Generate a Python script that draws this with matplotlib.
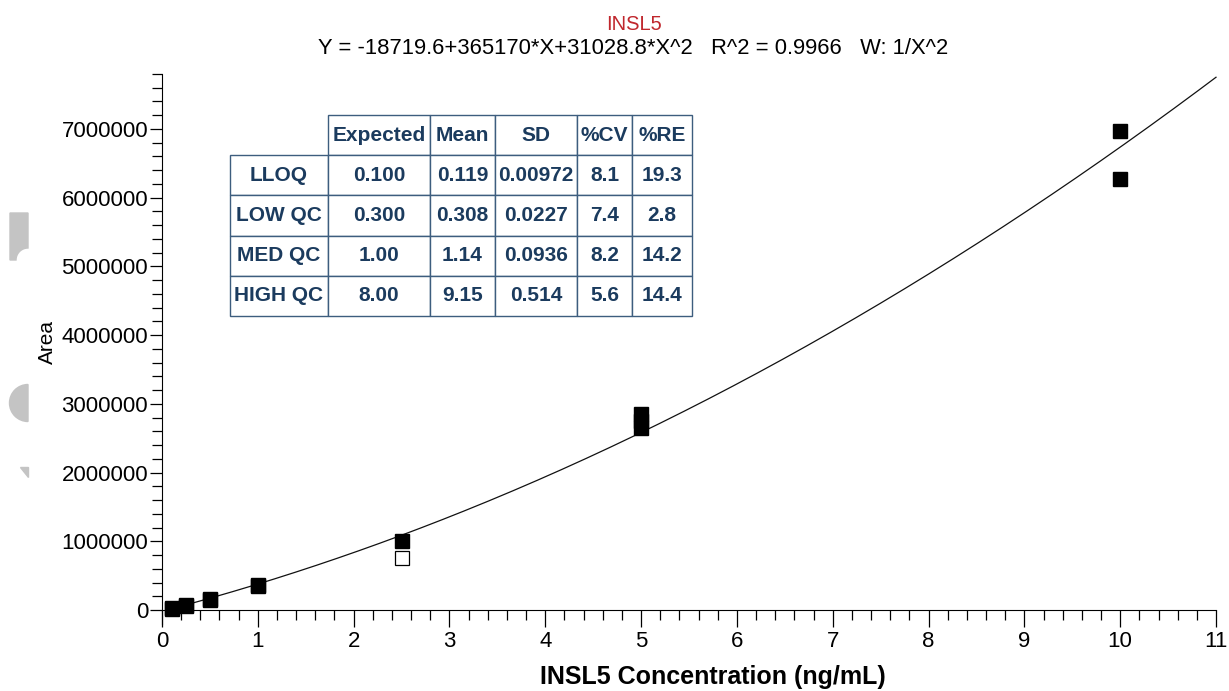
import matplotlib.pyplot as plt
import matplotlib.patches as mpatches
import numpy as np

plt.rcParams['font.family'] = ['Liberation Sans', 'DejaVu Sans']

# calibration standards (filled) and excluded point (open)
std_x = [0.1, 0.1, 0.25, 0.25, 0.5, 0.5, 1.0, 1.0, 2.5, 5.0, 5.0, 5.0, 10.0, 10.0]
std_y = [15000, 22000, 60000, 68000, 150000, 160000, 350000, 365000, 1010000,
         2650000, 2750000, 2850000, 6970000, 6270000]
excl_x = [2.5]
excl_y = [757000]

# quadratic fit  Y = a + b*X + c*X^2
coef_a, coef_b, coef_c = -18719.6, 365170, 31028.8
fit_x = np.linspace(0.08, 11.0, 300)
fit_y = coef_a + coef_b * fit_x + coef_c * fit_x ** 2

# QC summary table
row_names = ["LLOQ", "LOW QC", "MED QC", "HIGH QC"]
col_names = ["Expected", "Mean", "SD", "%CV", "%RE"]
table_vals = [
    ["0.100", "0.119", "0.00972", "8.1", "19.3"],
    ["0.300", "0.308", "0.0227", "7.4", "2.8"],
    ["1.00", "1.14", "0.0936", "8.2", "14.2"],
    ["8.00", "9.15", "0.514", "5.6", "14.4"],
]

fig = plt.figure(figsize=(12.29, 6.91), dpi=100)
ax = fig.add_axes([162 / 1229, 81 / 691, 1054 / 1229, 536 / 691])

ax.plot(fit_x, fit_y, color="#111111", lw=0.9, clip_on=False)
ax.plot(std_x, std_y, "s", color="black", ms=10, clip_on=False, zorder=5)
ax.plot(excl_x, excl_y, "s", mfc="white", mec="black", mew=0.9, ms=10,
        clip_on=False, zorder=5)

ax.set_xlim(0, 11)
ax.set_ylim(0, 7800000)
ax.set_xticks(range(0, 12))
ax.set_xticks(np.arange(0, 11.01, 0.2), minor=True)
ax.set_yticks(range(0, 7000001, 1000000))
ax.set_yticks(range(0, 7800001, 200000), minor=True)
ax.ticklabel_format(axis="y", style="plain")

for s in ["top", "right"]:
    ax.spines[s].set_visible(False)
ax.spines["left"].set_bounds(-200000, 7800000)
ax.tick_params(axis="both", which="major", labelsize=16, color="black")
ax.tick_params(axis="y", which="major", length=9, width=0.9, pad=1)
ax.tick_params(axis="y", which="minor", length=7, width=0.9)
ax.tick_params(axis="x", which="major", length=12, width=0.9, pad=3)
ax.tick_params(axis="x", which="minor", length=7, width=0.9)

ax.set_xlabel("INSL5 Concentration (ng/mL)", fontsize=18, fontweight="bold")
ax.xaxis.set_label_coords(0.523, -0.103)
ax.set_ylabel("Area", fontsize=15)
ax.yaxis.set_label_coords(-0.1, 0.5)

fig.text(634 / 1229, 1 - 25 / 691, "INSL5", color="#c0272d", fontsize=14.5,
         ha="center", va="center")
fig.text(633 / 1229, 1 - 48 / 691,
         "Y = -18719.6+365170*X+31028.8*X^2   R^2 = 0.9966   W: 1/X^2",
         fontsize=15.8, ha="center", va="center")

# table
cells = [[""] + col_names] + [[r] + v for r, v in zip(row_names, table_vals)]
col_w = [98, 102, 65, 82, 55, 60]
tbl = ax.table(cellText=cells, cellLoc="center",
               bbox=[68 / 1054, 294 / 536, 462 / 1054, 201 / 536])
tbl.auto_set_font_size(False)
edge_col = "#3d5d7e"
for (r, c), cell in tbl.get_celld().items():
    cell.set_width(col_w[c] / 462)
    cell.set_edgecolor(edge_col)
    cell.set_linewidth(1.0)
    cell.get_text().set_color("#1b3b5e")
    cell.get_text().set_fontweight("bold")
    cell.get_text().set_fontsize(15)
    if r == 0 and c == 0:
        cell.visible_edges = ""

# grey fragments at the left edge (pixel coordinates, y from top)
grey = "#c4c4c4"
arc = [(28 - 12 * np.sin(t), 260 - 12 * np.cos(t)) for t in np.linspace(0, np.pi / 2, 12)]
shape1 = [(10, 213), (28, 213)] + arc + [(10, 260)]
shape3 = [(20, 467), (28, 467), (28, 477)]
for pts in (shape1, shape3):
    fig.patches.append(mpatches.Polygon([(x, 691 - y) for x, y in pts], closed=True,
                                        color=grey, transform=None))
fig.patches.append(mpatches.Wedge((28, 691 - 403), 18.5, 90, 270, color=grey,
                                  transform=None))

fig.savefig("out.png", dpi=100)
